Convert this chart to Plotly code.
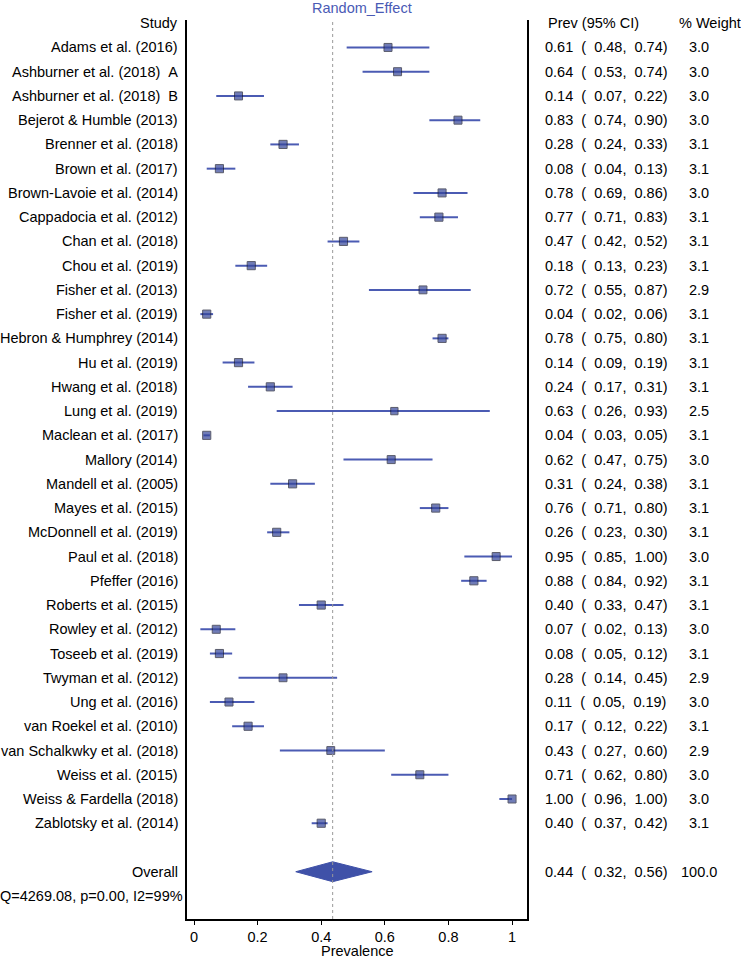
import plotly.graph_objects as go
import numpy as np

# === data ===
studies = [
    "Adams et al. (2016)", "Ashburner et al. (2018)\u00a0\u00a0A", "Ashburner et al. (2018)\u00a0\u00a0B",
    "Bejerot & Humble (2013)", "Brenner et al. (2018)", "Brown et al. (2017)",
    "Brown-Lavoie et al. (2014)", "Cappadocia et al. (2012)", "Chan et al. (2018)",
    "Chou et al. (2019)", "Fisher et al. (2013)", "Fisher et al. (2019)",
    "Hebron & Humphrey (2014)", "Hu et al. (2019)", "Hwang et al. (2018)",
    "Lung et al. (2019)", "Maclean et al. (2017)", "Mallory (2014)",
    "Mandell et al. (2005)", "Mayes et al. (2015)", "McDonnell et al. (2019)",
    "Paul et al. (2018)", "Pfeffer (2016)", "Roberts et al. (2015)",
    "Rowley et al. (2012)", "Toseeb et al. (2019)", "Twyman et al. (2012)",
    "Ung et al. (2016)", "van Roekel et al. (2010)", "van Schalkwky et al. (2018)",
    "Weiss et al. (2015)", "Weiss & Fardella (2018)", "Zablotsky et al. (2014)",
]
prev = [0.61, 0.64, 0.14, 0.83, 0.28, 0.08, 0.78, 0.77, 0.47, 0.18, 0.72, 0.04,
        0.78, 0.14, 0.24, 0.63, 0.04, 0.62, 0.31, 0.76, 0.26, 0.95, 0.88, 0.40,
        0.07, 0.08, 0.28, 0.11, 0.17, 0.43, 0.71, 1.00, 0.40]
ci_low = [0.48, 0.53, 0.07, 0.74, 0.24, 0.04, 0.69, 0.71, 0.42, 0.13, 0.55, 0.02,
          0.75, 0.09, 0.17, 0.26, 0.03, 0.47, 0.24, 0.71, 0.23, 0.85, 0.84, 0.33,
          0.02, 0.05, 0.14, 0.05, 0.12, 0.27, 0.62, 0.96, 0.37]
ci_high = [0.74, 0.74, 0.22, 0.90, 0.33, 0.13, 0.86, 0.83, 0.52, 0.23, 0.87, 0.06,
           0.80, 0.19, 0.31, 0.93, 0.05, 0.75, 0.38, 0.80, 0.30, 1.00, 0.92, 0.47,
           0.13, 0.12, 0.45, 0.19, 0.22, 0.60, 0.80, 1.00, 0.42]
weight = [3.0, 3.0, 3.0, 3.0, 3.1, 3.1, 3.0, 3.1, 3.1, 3.1, 2.9, 3.1, 3.1, 3.1,
          3.1, 2.5, 3.1, 3.0, 3.1, 3.1, 3.1, 3.0, 3.1, 3.1, 3.0, 3.1, 2.9, 3.0,
          3.1, 2.9, 3.0, 3.0, 3.1]

pooled_est, pooled_low, pooled_high, pooled_weight = 0.436, 0.32, 0.56, 100.0
het_text = "Q=4269.08, p=0.00, I2=99%"
x_ticks = [0, 0.2, 0.4, 0.6, 0.8, 1]
x_tick_labels = ["0", "0.2", "0.4", "0.6", "0.8", "1"]

# === styling ===
font_family = "Liberation Sans, Arial, sans-serif"
fsize = 14.5
line_blue = "#4b5bb3"
box_blue = "#35459a"
box_edge = "#15182e"
title_blue = "#4a5ab5"
nb = "\u00a0"

n = len(studies)
rows = np.arange(1, n + 1)
overall_row = n + 2
het_row = n + 3

fig = go.Figure()

# CI lines
cx, cy = [], []
for r, lo, hi in zip(rows, ci_low, ci_high):
    cx += [lo, hi, None]
    cy += [r, r, None]
fig.add_trace(go.Scatter(x=cx, y=cy, mode="lines",
                         line=dict(color=line_blue, width=2), hoverinfo="skip"))

# study boxes (area ~ weight)
fig.add_trace(go.Scatter(
    x=prev, y=rows, mode="markers",
    marker=dict(symbol="square", size=[8 * np.sqrt(w / 3.0) for w in weight],
                color=box_blue, line=dict(color=box_edge, width=1)),
    hoverinfo="skip"))

# pooled diamond
half_h = 0.41
fig.add_trace(go.Scatter(
    x=[pooled_low, pooled_est, pooled_high, pooled_est, pooled_low],
    y=[overall_row, overall_row - half_h, overall_row, overall_row + half_h, overall_row],
    mode="lines", fill="toself", fillcolor="#3f51a8",
    line=dict(color="#3f51a8", width=1), hoverinfo="skip"))

# dotted reference line at pooled estimate
fig.add_shape(type="line", x0=pooled_est, x1=pooled_est, y0=0, y1=1,
              xref="x", yref="paper", line=dict(color="#9a9a9a", width=1, dash="dot"))

ann = []
def txt(text, x, y, anchor, xref="paper", yref="y", color="black", **kw):
    ann.append(dict(text=text, x=x, y=y, xref=xref, yref=yref, xanchor=anchor,
                    yanchor="middle", showarrow=False,
                    font=dict(family=font_family, size=fsize, color=color), **kw))

label_x = -0.021
prev_x = 1.047
weight_x = 1.506

txt("Study", label_x, 0, "right")
txt("Prev (95% CI)", 1.056, 0, "left")
txt("% Weight", 1.441, 0, "left")

for r, s, p, lo, hi, w in zip(rows, studies, prev, ci_low, ci_high, weight):
    txt(s, label_x, r, "right")
    txt(f"{p:.2f}{nb*2}({nb*2}{lo:.2f},{nb*2}{hi:.2f})", prev_x, r, "left")
    txt(f"{w:.1f}", weight_x, r, "center")

txt("Overall", label_x, overall_row, "right")
txt(f"{pooled_est:.2f}{nb*2}({nb*2}{pooled_low:.2f},{nb*2}{pooled_high:.2f})",
    prev_x, overall_row, "left")
txt(f"{pooled_weight:.1f}", weight_x, overall_row, "center")
txt(het_text, -187 / 340, het_row, "left", xshift=-2)

# title and axis label placed by pixel shift
txt("Random_Effect", 0.515, 1, "center", yref="paper", color=title_blue, yshift=12)
txt("Prevalence", 0.5, 0, "center", yref="paper", yshift=-32)

fig.update_layout(
    width=741, height=957,
    margin=dict(l=187, r=214, t=20, b=36),
    paper_bgcolor="white", plot_bgcolor="white",
    showlegend=False,
    font=dict(family=font_family, size=fsize, color="black"),
    annotations=ann,
    xaxis=dict(range=[-0.022, 1.047], tickvals=x_ticks, ticktext=x_tick_labels,
               showgrid=False, zeroline=False, showline=True, linecolor="black",
               linewidth=2, ticks="outside", ticklen=4, tickcolor="black",
               tickfont=dict(family=font_family, size=fsize)),
    yaxis=dict(range=[36.95, -0.132], showgrid=False, zeroline=False,
               showline=True, mirror=True, linecolor="black", linewidth=2,
               showticklabels=False, ticks=""),
)

# drop the page's default body margin so the figure fills the window
fig.write_html("out.html", config={"displayModeBar": False},
               post_script="document.body.style.margin='0';")
